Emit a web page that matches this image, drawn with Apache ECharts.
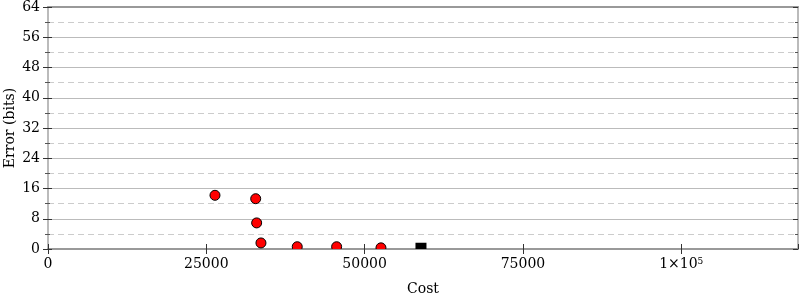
<!DOCTYPE html>
<html>
<head>
<meta charset="utf-8">
<script src="https://cdn.jsdelivr.net/npm/echarts@6/dist/echarts.min.js"></script>
<style>html,body{margin:0;padding:0;background:#fff}#c{width:800px;height:300px}</style>
</head>
<body>
<div id="c"></div>
<script>
const xTicks = [0, 25000, 50000, 75000, 100000];
const xTickLabels = ['0', '25000', '50000', '75000', '{a|1×10}{b|5}'];
const yTicks = [0, 8, 16, 24, 32, 40, 48, 56, 64];
const circleCost = [26370, 32800, 32950, 33630, 39360, 45580, 52580];
const circleError = [14.2, 13.3, 6.9, 1.6, 0.6, 0.6, 0.3];
const squareCost = [58900];
const squareError = [0.2];

const X_MAX = 118440;
const font = 'DejaVu Serif';
const fs = 14;

const chart = echarts.init(document.getElementById('c'), null, {renderer: 'canvas'});
const xLabelFmt = v => { const i = xTicks.indexOf(v); return i >= 0 ? xTickLabels[i] : ''; };
const yLabelFmt = v => yTicks.indexOf(v) >= 0 ? String(v) : '';

const baseX = {type: 'value', min: 0, max: X_MAX, interval: 25000, splitLine: {show: false}};
const baseY = {type: 'value', min: 0, max: 64, interval: 8};

function circleItem(params, api) {
  const p = api.coord([api.value(0), api.value(1)]);
  return {type: 'circle', shape: {cx: p[0], cy: p[1], r: 5}, style: {fill: '#ff0000', stroke: '#000', lineWidth: 1}};
}
function squareItem(params, api) {
  const p = api.coord([api.value(0), api.value(1)]);
  return {type: 'rect', shape: {x: p[0] - 5.5, y: p[1] - 5.5, width: 11, height: 11}, style: {fill: '#000', stroke: null}};
}

chart.setOption({
  animation: false,
  backgroundColor: '#fff',
  grid: {left: 48, right: 2, top: 7, bottom: 51, containLabel: false, outerBoundsMode: 'none'},
  xAxis: [
    Object.assign({}, baseX, {
      position: 'bottom',
      name: 'Cost', nameLocation: 'middle', nameGap: 33, nameMoveOverlap: false,
      nameTextStyle: {fontFamily: font, fontSize: fs, color: '#000'},
      axisLine: {show: true, onZero: false, lineStyle: {color: '#999', width: 2}},
      axisTick: {show: true, inside: false, length: 5, lineStyle: {color: '#333'}},
      axisLabel: {show: true, margin: 8, fontFamily: font, fontSize: fs, color: '#000', formatter: xLabelFmt,
        showMaxLabel: false,
        rich: {a: {fontFamily: font, fontSize: fs, color: '#000'}, b: {fontFamily: font, fontSize: 9, color: '#000', padding: [0, 0, 6, 0]}}}
    }),
    Object.assign({}, baseX, {
      position: 'bottom',
      axisLine: {show: false, onZero: false},
      axisTick: {show: true, inside: true, length: 5, lineStyle: {color: '#333'}},
      axisLabel: {show: false}
    }),
    Object.assign({}, baseX, {
      position: 'top',
      axisLine: {show: true, onZero: false, lineStyle: {color: '#999', width: 2}},
      axisTick: {show: false},
      axisLabel: {show: false}
    })
  ],
  yAxis: [
    Object.assign({}, baseY, {
      position: 'left',
      name: 'Error (bits)', nameLocation: 'middle', nameGap: 31, nameMoveOverlap: false,
      nameTextStyle: {fontFamily: font, fontSize: fs, color: '#000'},
      axisLine: {show: true, onZero: false, lineStyle: {color: '#bbb', width: 2}},
      axisTick: {show: true, inside: false, length: 5, lineStyle: {color: '#333'}},
      minorTick: {show: true, splitNumber: 2, length: 3, lineStyle: {color: '#555'}},
      axisLabel: {show: true, margin: 8, fontFamily: font, fontSize: fs, color: '#000', formatter: yLabelFmt},
      splitLine: {show: true, lineStyle: {color: '#bbb', width: 1}},
      minorSplitLine: {show: true, lineStyle: {color: '#ccc', width: 1, type: [6, 4]}}
    }),
    Object.assign({}, baseY, {
      position: 'left',
      axisLine: {show: false, onZero: false},
      axisTick: {show: true, inside: true, length: 4, lineStyle: {color: '#333'}},
      minorTick: {show: true, splitNumber: 2, length: 2, lineStyle: {color: '#555'}},
      axisLabel: {show: false},
      splitLine: {show: false}
    }),
    Object.assign({}, baseY, {
      position: 'right',
      axisLine: {show: true, onZero: false, lineStyle: {color: '#bbb', width: 2}},
      axisTick: {show: true, inside: true, length: 5, lineStyle: {color: '#333'}},
      minorTick: {show: true, splitNumber: 2, length: 3, lineStyle: {color: '#555'}},
      axisLabel: {show: false},
      splitLine: {show: false}
    })
  ],
  series: [
    {
      type: 'custom', xAxisIndex: 0, yAxisIndex: 0, clip: true,
      renderItem: circleItem, encode: {x: 0, y: 1},
      data: circleCost.map((c, i) => [c, circleError[i]])
    },
    {
      type: 'custom', xAxisIndex: 0, yAxisIndex: 0, clip: true,
      renderItem: squareItem, encode: {x: 0, y: 1},
      data: squareCost.map((c, i) => [c, squareError[i]])
    }
  ]
});
</script>
</body>
</html>
